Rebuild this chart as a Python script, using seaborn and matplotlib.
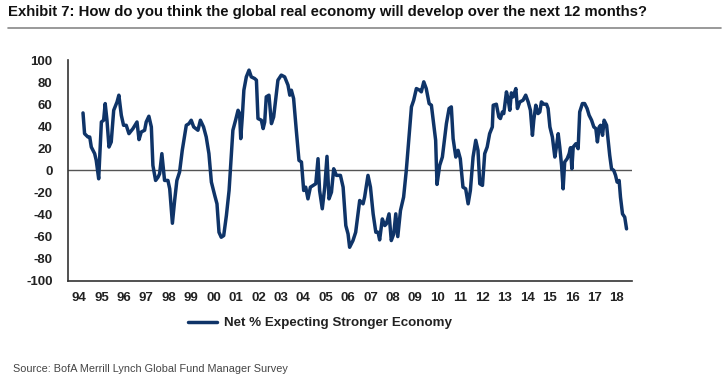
import numpy as np
import pandas as pd
import matplotlib
matplotlib.use("Agg")
import matplotlib.pyplot as plt
import seaborn as sns

# survey date (fractional year) and net % expecting a stronger economy
years = [
    1994.67, 1994.74, 1994.89, 1994.97, 1995.04, 1995.19, 1995.26, 1995.37, 1995.49, 1995.59,
    1995.66, 1995.74, 1995.83, 1995.93, 1996.04, 1996.13, 1996.19, 1996.27, 1996.38, 1996.48,
    1996.60, 1996.72, 1996.90, 1997.08, 1997.17, 1997.27, 1997.42, 1997.49, 1997.61, 1997.72,
    1997.79, 1997.91, 1998.02, 1998.09, 1998.19, 1998.31, 1998.46, 1998.54, 1998.66, 1998.76,
    1998.86, 1998.98, 1999.10, 1999.28, 1999.40, 1999.50, 1999.61, 1999.80, 1999.91, 2000.05,
    2000.17, 2000.29, 2000.40, 2000.55, 2000.65, 2000.74, 2000.84, 2000.95, 2001.07, 2001.19,
    2001.36, 2001.48, 2001.59, 2001.66, 2001.71, 2001.78, 2001.85, 2001.96, 2002.08, 2002.18,
    2002.33, 2002.41, 2002.48, 2002.63, 2002.71, 2002.78, 2002.85, 2002.97, 2003.08, 2003.18,
    2003.37, 2003.52, 2003.67, 2003.82, 2003.90, 2003.97, 2004.07, 2004.19, 2004.31, 2004.42,
    2004.52, 2004.61, 2004.71, 2004.82, 2004.94, 2005.06, 2005.16, 2005.23, 2005.35, 2005.46,
    2005.56, 2005.65, 2005.76, 2005.86, 2005.98, 2006.16, 2006.28, 2006.40, 2006.50, 2006.57,
    2006.72, 2006.84, 2007.02, 2007.17, 2007.24, 2007.39, 2007.50, 2007.62, 2007.74, 2007.84,
    2007.91, 2008.03, 2008.14, 2008.21, 2008.33, 2008.43, 2008.54, 2008.63, 2008.72, 2008.84,
    2008.98, 2009.10, 2009.22, 2009.33, 2009.43, 2009.55, 2009.70, 2009.77, 2009.88, 2009.99,
    2010.12, 2010.22, 2010.32, 2010.41, 2010.47, 2010.59, 2010.71, 2010.89, 2011.01, 2011.11,
    2011.19, 2011.31, 2011.41, 2011.51, 2011.63, 2011.75, 2011.86, 2011.96, 2012.08, 2012.20,
    2012.30, 2012.38, 2012.50, 2012.60, 2012.71, 2012.82, 2012.94, 2012.98, 2013.12, 2013.23,
    2013.30, 2013.39, 2013.45, 2013.57, 2013.64, 2013.72, 2013.79, 2013.87, 2013.99, 2014.06,
    2014.17, 2014.31, 2014.43, 2014.54, 2014.64, 2014.73, 2014.79, 2014.88, 2014.98, 2015.06,
    2015.13, 2015.24, 2015.36, 2015.43, 2015.51, 2015.62, 2015.73, 2015.80, 2015.88, 2015.95,
    2016.03, 2016.10, 2016.17, 2016.28, 2016.37, 2016.43, 2016.49, 2016.55, 2016.67, 2016.77,
    2016.84, 2016.96, 2017.06, 2017.17, 2017.26, 2017.37, 2017.47, 2017.56, 2017.63, 2017.71,
    2017.77, 2017.86, 2017.93, 2018.04, 2018.11, 2018.18, 2018.26, 2018.36, 2018.44, 2018.51,
    2018.60, 2018.66, 2018.75, 2018.85, 2018.93,
]
net_pct = [
    52.1, 33.3, 30.3, 30.3, 21.2, 15.2, 9.1, -7.6, 43.9, 45.5,
    60.6, 45.5, 21.2, 25.8, 54.5, 59.1, 62.1, 68.2, 50.0, 40.9,
    40.9, 33.3, 37.9, 43.9, 27.9, 34.8, 36.4, 43.9, 49.1, 39.4,
    4.5, -9.1, -6.1, -3.0, 15.2, -9.1, -9.1, -16.7, -47.9, -27.3,
    -9.1, -1.5, 18.2, 40.9, 42.4, 45.5, 39.4, 36.4, 45.5, 39.4,
    30.3, 15.2, -10.6, -22.7, -30.3, -56.1, -60.6, -59.1, -40.9, -18.2,
    36.4, 45.5, 54.5, 51.5, 28.8, 48.5, 72.7, 84.8, 90.9, 84.8,
    83.3, 81.8, 47.0, 45.5, 37.9, 43.9, 66.7, 68.2, 42.4, 48.5,
    81.8, 86.4, 84.8, 77.3, 68.2, 72.7, 65.2, 36.4, 9.1, 7.6,
    -18.2, -15.2, -25.8, -15.2, -13.6, -12.1, 10.6, -18.2, -34.8, -15.2,
    12.7, -25.8, -19.7, 1.5, -4.5, -4.5, -15.2, -50.0, -57.6, -69.7,
    -63.6, -56.1, -27.3, -30.3, -24.2, -4.5, -15.2, -39.4, -56.1, -56.1,
    -63.0, -44.0, -50.0, -48.5, -39.4, -63.6, -57.6, -39.4, -60.0, -36.4,
    -24.2, 0.0, 30.3, 57.6, 63.6, 74.2, 72.7, 71.2, 80.3, 74.2,
    60.6, 59.1, 42.4, 27.3, -12.7, 4.5, 12.1, 42.4, 56.1, 57.6,
    28.8, 12.1, 18.2, 10.6, -15.2, -16.7, -30.3, -18.2, 12.1, 27.3,
    18.2, -12.1, -13.6, 15.2, 21.2, 33.3, 39.4, 59.1, 60.0, 48.5,
    47.0, 53.0, 51.5, 71.2, 65.2, 54.5, 70.3, 66.7, 74.2, 56.1,
    62.1, 63.6, 68.2, 62.1, 54.5, 31.8, 45.5, 59.1, 51.5, 53.0,
    62.1, 60.0, 60.0, 56.1, 39.4, 30.3, 12.1, 21.2, 33.3, 21.2,
    4.5, -16.7, 7.6, 10.6, 15.2, 20.6, 1.5, 21.2, 24.2, 19.7,
    53.0, 60.6, 60.6, 56.1, 50.0, 45.5, 39.4, 37.9, 25.8, 39.4,
    40.9, 31.8, 45.5, 40.9, 27.3, 13.6, 1.5, 0.0, -4.5, -10.6,
    -9.1, -24.2, -39.4, -42.4, -53.0,
]

year_labels = ["94", "95", "96", "97", "98", "99", "00", "01", "02", "03", "04", "05", "06",
               "07", "08", "09", "10", "11", "12", "13", "14", "15", "16", "17", "18"]
y_ticks = [-100, -80, -60, -40, -20, 0, 20, 40, 60, 80, 100]

title = "Exhibit 7: How do you think the global real economy will develop over the next 12 months?"
series_name = "Net % Expecting Stronger Economy"
source = "Source: BofA Merrill Lynch Global Fund Manager Survey"

sns.set_style("white")
plt.rcParams["font.family"] = ["Liberation Sans", "DejaVu Sans"]

line_color = "#0f3468"

df = pd.DataFrame({"year": years, "value": net_pct})
df["series"] = series_name

fig = plt.figure(figsize=(7.28, 3.78), dpi=100)
ax = fig.add_axes([0.0934, 0.2574, 0.7746, 0.5836])

ax.axhline(0, color="#555555", lw=1.0, zorder=1)
sns.lineplot(data=df, x="year", y="value", hue="series", palette=[line_color],
             lw=2.5, ax=ax, zorder=3, sort=False)

ax.set_xlim(1994, 2019.17)
ax.set_ylim(-100, 100)

# tick marks on year boundaries, labels centred in each year
ax.set_xticks(np.arange(1994, 2020))
ax.set_xticklabels([])
ax.set_xticks(np.arange(1994.5, 2019.0, 1.0), minor=True)
ax.set_xticklabels(year_labels, minor=True, fontweight="bold", fontsize=9.5, color="#222222")
ax.tick_params(axis="x", which="major", direction="out", length=5, width=1.2, color="#333333")
ax.tick_params(axis="x", which="minor", length=0, pad=8)

ax.set_yticks(y_ticks)
ax.set_yticklabels([str(v) for v in y_ticks], fontweight="bold", fontsize=9.5, color="#222222")
ax.tick_params(axis="y", direction="out", length=5, width=1.2, color="#333333", pad=6)

for side in ["top", "right"]:
    ax.spines[side].set_visible(False)
for side in ["left", "bottom"]:
    ax.spines[side].set_color("#333333")
    ax.spines[side].set_linewidth(1.2)

ax.set_xlabel("")
ax.set_ylabel("")

leg = ax.legend(loc="center left", frameon=False, handlelength=2.2, handletextpad=0.5,
                borderaxespad=0, borderpad=0,
                prop={"weight": "bold", "size": 9.6})
leg.set_bbox_to_anchor((0.258, 0.145), transform=fig.transFigure)
for t in leg.get_texts():
    t.set_color("#222222")

fig.text(0.011, 0.967, title, fontsize=10.7, fontweight="bold", color="#111111", va="center", ha="left")
fig.add_artist(plt.Line2D([0.011, 0.99], [0.926, 0.926], transform=fig.transFigure,
                          color="#888888", lw=1.2))
fig.text(0.018, 0.024, source, fontsize=7.8, color="#444444", va="center", ha="left")

fig.savefig("out.png", dpi=100)
